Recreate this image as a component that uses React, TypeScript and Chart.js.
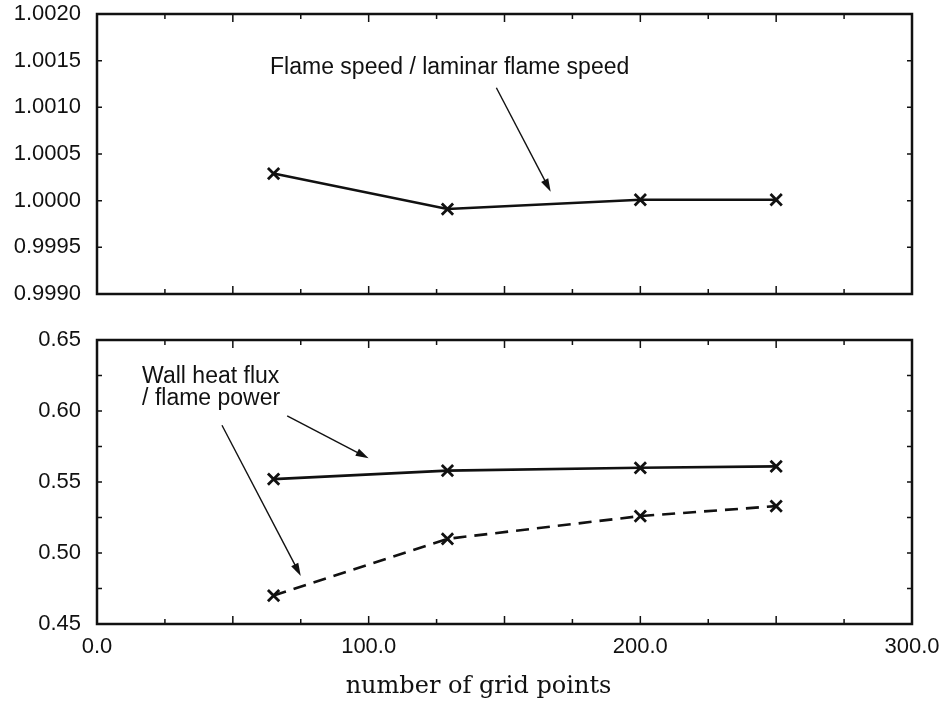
import React, { useEffect, useRef } from "react";
import { Chart, registerables } from "chart.js";

Chart.register(...registerables);

// ---- data ----
const gridPoints = [65, 129, 200, 250];
const flameSpeedRatio = [1.00029, 0.99991, 1.00001, 1.00001];
const wallHeatFluxSolid = [0.552, 0.558, 0.560, 0.561];
const wallHeatFluxDashed = [0.470, 0.510, 0.526, 0.533];

const xTickValues = [0, 100, 200, 300];
const xTickLabels = ["0.0", "100.0", "200.0", "300.0"];
const xFrameTicks = [25, 50, 75, 100, 125, 150, 175, 200, 225, 250, 275];

const topYTickValues = [0.999, 0.9995, 1.0, 1.0005, 1.001, 1.0015, 1.002];
const topYTickLabels = ["0.9990", "0.9995", "1.0000", "1.0005", "1.0010", "1.0015", "1.0020"];

const bottomYTickValues = [0.45, 0.5, 0.55, 0.6, 0.65];
const bottomYTickLabels = ["0.45", "0.50", "0.55", "0.60", "0.65"];
const bottomYFrameTicks = [0.475, 0.5, 0.525, 0.55, 0.575, 0.6, 0.625];

const topLabel = "Flame speed / laminar flame speed";
const bottomLabelLines = ["Wall heat flux", "/ flame power"];
const xTitle = "number of grid points";

// annotation anchors (data coordinates)
const topTextAnchor = { x: 63.7, y: 1.00142 };
const topArrow = { x1: 147, y1: 1.00121, x2: 167, y2: 1.000096 };
const bottomTextAnchor = { x: 16.6, y1: 0.6239, y2: 0.6085 };
const bottomArrows = [
  { x1: 70, y1: 0.5965, x2: 100, y2: 0.5667 },
  { x1: 46, y1: 0.59, x2: 75, y2: 0.4838 },
];

const SANS = '"Liberation Sans", Arial, Helvetica, sans-serif';
const SERIF = '"DejaVu Serif", "Liberation Serif", serif';
const INK = "#111";

function drawArrow(ctx: CanvasRenderingContext2D, x1: number, y1: number, x2: number, y2: number) {
  ctx.save();
  ctx.strokeStyle = INK;
  ctx.fillStyle = INK;
  ctx.lineWidth = 1.4;
  const ang = Math.atan2(y2 - y1, x2 - x1);
  const L = 13;
  const W = 4;
  ctx.beginPath();
  ctx.moveTo(x1, y1);
  ctx.lineTo(x2 - Math.cos(ang) * 6, y2 - Math.sin(ang) * 6);
  ctx.stroke();
  ctx.beginPath();
  ctx.moveTo(x2, y2);
  ctx.lineTo(x2 - L * Math.cos(ang) + W * Math.sin(ang), y2 - L * Math.sin(ang) - W * Math.cos(ang));
  ctx.lineTo(x2 - L * Math.cos(ang) - W * Math.sin(ang), y2 - L * Math.sin(ang) + W * Math.cos(ang));
  ctx.closePath();
  ctx.fill();
  ctx.restore();
}

function framePlugin(yFrameTicks: number[], xMajorEvery: number) {
  return {
    id: "frame",
    afterDatasetsDraw(chart: any) {
      const { ctx, chartArea } = chart;
      const { left, right, top, bottom } = chartArea;
      const xs = chart.scales.x;
      const ys = chart.scales.y;
      ctx.save();
      ctx.strokeStyle = INK;
      ctx.lineWidth = 1.5;
      xFrameTicks.forEach((v) => {
        const px = xs.getPixelForValue(v);
        const len = v % xMajorEvery === 0 ? 8 : 5;
        ctx.beginPath();
        ctx.moveTo(px, bottom);
        ctx.lineTo(px, bottom - len);
        ctx.moveTo(px, top);
        ctx.lineTo(px, top + len);
        ctx.stroke();
      });
      yFrameTicks.forEach((v) => {
        const py = ys.getPixelForValue(v);
        ctx.beginPath();
        ctx.moveTo(left, py);
        ctx.lineTo(left + 5, py);
        ctx.moveTo(right, py);
        ctx.lineTo(right - 5, py);
        ctx.stroke();
      });
      ctx.lineWidth = 2.5;
      ctx.strokeRect(left, top, right - left, bottom - top);
      ctx.restore();
    },
  };
}

const topAnnotations = {
  id: "topAnn",
  afterDraw(chart: any) {
    const { ctx } = chart;
    const xs = chart.scales.x;
    const ys = chart.scales.y;
    ctx.save();
    ctx.fillStyle = INK;
    ctx.font = `23px ${SANS}`;
    ctx.textAlign = "left";
    ctx.textBaseline = "middle";
    ctx.fillText(topLabel, xs.getPixelForValue(topTextAnchor.x), ys.getPixelForValue(topTextAnchor.y));
    ctx.restore();
    drawArrow(
      ctx,
      xs.getPixelForValue(topArrow.x1),
      ys.getPixelForValue(topArrow.y1),
      xs.getPixelForValue(topArrow.x2),
      ys.getPixelForValue(topArrow.y2)
    );
  },
};

const bottomAnnotations = {
  id: "bottomAnn",
  afterDraw(chart: any) {
    const { ctx, chartArea } = chart;
    const xs = chart.scales.x;
    const ys = chart.scales.y;
    ctx.save();
    ctx.fillStyle = INK;
    ctx.font = `23px ${SANS}`;
    ctx.textAlign = "left";
    ctx.textBaseline = "middle";
    const tx = xs.getPixelForValue(bottomTextAnchor.x);
    ctx.fillText(bottomLabelLines[0], tx, ys.getPixelForValue(bottomTextAnchor.y1));
    ctx.fillText(bottomLabelLines[1], tx, ys.getPixelForValue(bottomTextAnchor.y2));
    // x-axis title
    ctx.font = `24px ${SERIF}`;
    ctx.textAlign = "center";
    ctx.fillText(xTitle, (chartArea.left + chartArea.right) / 2 - 26, chartArea.bottom + 63);
    ctx.restore();
    bottomArrows.forEach((a) =>
      drawArrow(
        ctx,
        xs.getPixelForValue(a.x1),
        ys.getPixelForValue(a.y1),
        xs.getPixelForValue(a.x2),
        ys.getPixelForValue(a.y2)
      )
    );
  },
};

function seriesStyle(dashed: boolean) {
  return {
    borderColor: INK,
    backgroundColor: INK,
    borderWidth: 2.6,
    borderDash: dashed ? [13, 8] : [],
    pointStyle: "crossRot" as const,
    pointRadius: 8,
    pointBorderWidth: 2.8,
    pointBorderColor: INK,
    tension: 0,
    fill: false,
  };
}

const W = 943;
const TOP_H = 310;
const BOTTOM_H = 401;

export default function App() {
  const topRef = useRef<HTMLCanvasElement | null>(null);
  const bottomRef = useRef<HTMLCanvasElement | null>(null);

  useEffect(() => {
    if (!topRef.current || !bottomRef.current) return;

    const yAxisCommon = {
      type: "linear",
      grid: { display: false, drawTicks: true, tickLength: 16 },
      border: { display: false },
      afterFit: (s: any) => {
        s.width = 97;
      },
    };

    const topChart = new Chart(topRef.current, {
      type: "line",
      data: {
        datasets: [
          {
            data: gridPoints.map((x, i) => ({ x, y: flameSpeedRatio[i] })),
            ...seriesStyle(false),
          } as any,
        ],
      },
      options: {
        responsive: false,
        animation: false,
        devicePixelRatio: 1,
        layout: { autoPadding: false, padding: { top: 14, right: 31, bottom: 16, left: 0 } },
        plugins: { legend: { display: false }, tooltip: { enabled: false } },
        scales: {
          x: {
            type: "linear",
            min: 0,
            max: 300,
            grid: { display: false, drawTicks: false },
            border: { display: false },
            ticks: { display: false },
            afterFit: (s: any) => {
              s.height = 0;
            },
          },
          y: {
            ...yAxisCommon,
            min: 0.999,
            max: 1.002,
            afterBuildTicks: (s: any) => {
              s.ticks = topYTickValues.map((value) => ({ value }));
            },
            ticks: {
              padding: 0,
              color: INK,
              font: { family: SANS, size: 22 },
              callback: (_v: any, i: number) => topYTickLabels[i],
            },
          },
        },
      } as any,
      plugins: [framePlugin(topYTickValues, 50), topAnnotations],
    });

    const bottomChart = new Chart(bottomRef.current, {
      type: "line",
      data: {
        datasets: [
          {
            data: gridPoints.map((x, i) => ({ x, y: wallHeatFluxSolid[i] })),
            ...seriesStyle(false),
          } as any,
          {
            data: gridPoints.map((x, i) => ({ x, y: wallHeatFluxDashed[i] })),
            ...seriesStyle(true),
          } as any,
        ],
      },
      options: {
        responsive: false,
        animation: false,
        devicePixelRatio: 1,
        layout: { autoPadding: false, padding: { top: 30, right: 31, bottom: 0, left: 0 } },
        plugins: { legend: { display: false }, tooltip: { enabled: false } },
        scales: {
          x: {
            type: "linear",
            min: 0,
            max: 300,
            grid: { display: false, drawTicks: true, tickLength: 10 },
            border: { display: false },
            afterBuildTicks: (s: any) => {
              s.ticks = xTickValues.map((value) => ({ value }));
            },
            ticks: {
              padding: 0,
              maxRotation: 0,
              autoSkip: false,
              color: INK,
              font: { family: SANS, size: 22 },
              callback: (_v: any, i: number) => xTickLabels[i],
            },
            afterFit: (s: any) => {
              s.height = 87;
            },
          },
          y: {
            ...yAxisCommon,
            min: 0.45,
            max: 0.65,
            afterBuildTicks: (s: any) => {
              s.ticks = bottomYTickValues.map((value) => ({ value }));
            },
            ticks: {
              padding: 0,
              color: INK,
              font: { family: SANS, size: 22 },
              callback: (_v: any, i: number) => bottomYTickLabels[i],
            },
          },
        },
      } as any,
      plugins: [framePlugin(bottomYFrameTicks, 50), bottomAnnotations],
    });

    return () => {
      topChart.destroy();
      bottomChart.destroy();
    };
  }, []);

  return (
    <div style={{ position: "absolute", left: 0, top: 0, width: W, height: TOP_H + BOTTOM_H, background: "#fff" }}>
      <canvas
        ref={topRef}
        width={W}
        height={TOP_H}
        style={{ position: "absolute", left: 0, top: 0, width: W, height: TOP_H }}
      />
      <canvas
        ref={bottomRef}
        width={W}
        height={BOTTOM_H}
        style={{ position: "absolute", left: 0, top: TOP_H, width: W, height: BOTTOM_H }}
      />
    </div>
  );
}
